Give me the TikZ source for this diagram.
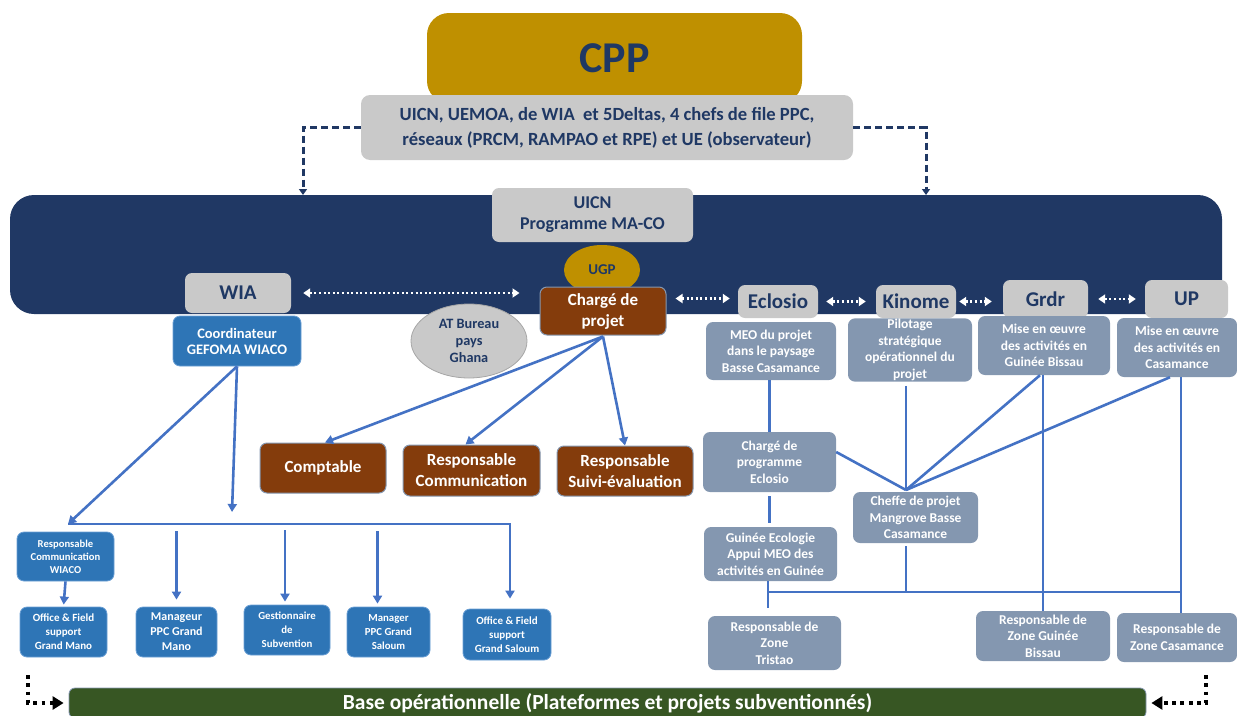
\documentclass[tikz,border=0pt]{standalone}
\usepackage{fontspec}
\setmainfont{Carlito}
\usetikzlibrary{arrows.meta,shapes.geometric}
\definecolor{gold}{HTML}{BF9000}
\definecolor{navy}{HTML}{203864}
\definecolor{navytext}{HTML}{1F3864}
\definecolor{lgrey}{HTML}{C9C9C9}
\definecolor{brownc}{HTML}{843C0C}
\definecolor{bordc}{HTML}{8497B0}
\definecolor{blueb}{HTML}{2E75B6}
\definecolor{blueborder}{HTML}{6A9FD4}
\definecolor{slate}{HTML}{8497B0}
\definecolor{linec}{HTML}{4472C4}
\definecolor{greenc}{HTML}{375623}
\newcommand\fsz[2]{\fontsize{#1}{#2}\selectfont\bfseries}
\tikzset{
  bx/.style={rounded corners=7pt, align=center, inner sep=1pt},
  greybox/.style={bx, fill=lgrey, text=navytext},
  brownbox/.style={bx, fill=brownc, draw=bordc, line width=1pt, text=white, font=\fsz{17}{21}},
  bluebox/.style={bx, fill=blueb, draw=blueborder, line width=0.8pt, text=white, font=\fsz{10.8}{14}},
  slatebox/.style={bx, fill=slate, text=white, font=\fsz{13.5}{16.5}},
  conn/.style={draw=linec, line width=2.6pt},
  arr/.style={conn, -{Triangle[width=9pt,length=8pt]}},
  dashc/.style={draw=navy, line width=3pt, dash pattern=on 7pt off 4pt, -{Triangle[width=8pt,length=6pt]}},
  wdot/.style={draw=white, line width=2.4pt, dash pattern=on 2pt off 2.6pt, {Triangle[width=9pt,length=7pt]}-{Triangle[width=9pt,length=7pt]}},
  kdot/.style={draw=black, line width=3.8pt, dash pattern=on 3.8pt off 4.5pt, -{Triangle[width=13pt,length=11pt]}},
}
\begin{document}
\begin{tikzpicture}[x=1pt,y=-1pt]
\useasboundingbox (0,0) rectangle (1237,715);
% top
\node[bx, rounded corners=22pt, fill=gold, text=navytext, font=\fsz{44}{50}, minimum width=375pt, minimum height=90pt] (cpp) at (614.5,58) {CPP};
\node[greybox, rounded corners=9pt, font=\fsz{18.6}{25}, minimum width=492pt, minimum height=65pt] (gbox) at (607,127.5)
  {UICN, UEMOA, de WIA\ \ et 5Deltas, 4 chefs de file PPC,\\réseaux (PRCM, RAMPAO et RPE) et UE (observateur)};
% band
\node[bx, rounded corners=24pt, fill=navy, minimum width=1212pt, minimum height=119pt] (band) at (616,254.5) {};
\coordinate (bandL) at (303,195);
\coordinate (bandR) at (926,195);
\draw[dashc] (gbox.west) -| (bandL);
\draw[dashc] (gbox.east) -| (bandR);
\node[greybox, font=\fsz{18}{21}, minimum width=201pt, minimum height=54pt] (uicn) at (592.5,215) {UICN\\Programme MA-CO};
\node[ellipse, fill=gold, text=navytext, font=\fsz{15}{17}, minimum width=76pt, minimum height=50pt, inner sep=0pt] (ugp) at (602,270) {UGP};
\node[brownbox, minimum width=126pt, minimum height=48pt] (chp) at (603,311) {Chargé de\\projet};
\node[ellipse, fill=lgrey, draw=gray!70, line width=0.8pt, text=navytext, font=\fsz{14.3}{17}, align=center, minimum width=116pt, minimum height=74pt, inner sep=0pt] (atg) at (469,341) {AT Bureau\\pays\\Ghana};
\node[greybox, font=\fsz{21}{24}, minimum width=106pt, minimum height=40pt] (wia) at (238,293) {WIA};
\node[bluebox, font=\fsz{14.5}{16}, minimum width=128pt, minimum height=50pt] (coord) at (237,341) {Coordinateur\\GEFOMA WIACO};
% partners
\node[greybox, font=\fsz{21}{24}, minimum width=80pt, minimum height=33pt] (ecl) at (778,301.5) {Eclosio};
\node[greybox, font=\fsz{21}{24}, minimum width=80pt, minimum height=33pt] (kin) at (916,301.5) {Kinome};
\node[greybox, font=\fsz{21}{24}, minimum width=85pt, minimum height=38pt] (grdr) at (1045.5,299) {Grdr};
\node[greybox, font=\fsz{21}{24}, minimum width=83pt, minimum height=38pt] (up) at (1186.5,299) {UP};
% white dotted links
\draw[wdot, shorten <=12pt, shorten >=20pt] (wia.east) -- (wia.east -| chp.west);
\draw[wdot, shorten <=9pt, shorten >=8pt] ([yshift=3pt]chp.east |- ecl.west) -- ([yshift=3pt]ecl.west);
\draw[wdot, shorten <=8pt, shorten >=10pt] (ecl.east) -- (kin.west);
\draw[wdot, shorten <=3pt, shorten >=11pt] (kin.east) -- (kin.east -| grdr.west);
\draw[wdot, shorten <=10pt, shorten >=9pt] (grdr.east) -- (up.west);
% right boxes
\node[slatebox, minimum width=130pt, minimum height=58pt] (meo) at (771,351) {MEO du projet\\dans le paysage\\Basse Casamance};
\node[slatebox, minimum width=124pt, minimum height=60pt] (pil) at (910,350) {Pilotage\\stratégique\\opérationnel du\\projet};
\node[slatebox, minimum width=132pt, minimum height=59pt] (mgb) at (1044,345.5) {Mise en œuvre\\des activités en\\Guinée Bissau};
\node[slatebox, minimum width=120pt, minimum height=59pt] (mca) at (1177,347.5) {Mise en œuvre\\des activités en\\Casamance};
\node[slatebox, minimum width=133pt, minimum height=60pt] (cprog) at (769.5,462) {Chargé de\\programme\\Eclosio};
\node[slatebox, minimum width=133pt, minimum height=54pt] (guin) at (770.5,554) {Guinée Ecologie\\Appui MEO des\\activités en Guinée};
\node[slatebox, minimum width=125pt, minimum height=51pt] (cheffe) at (915.5,517.5) {Cheffe de projet\\Mangrove Basse\\Casamance};
\node[slatebox, minimum width=133pt, minimum height=54pt] (tri) at (774.5,643) {Responsable de\\Zone\\Tristao};
\node[slatebox, minimum width=134pt, minimum height=50pt] (zgb) at (1043,636) {Responsable de\\Zone Guinée\\Bissau};
\node[slatebox, minimum width=120pt, minimum height=49pt] (zca) at (1177,637.5) {Responsable de\\Zone Casamance};
% right connectors
\coordinate (conv) at (906,490);
\coordinate (hbL) at (768,592);
\coordinate (hbR) at (1181,592);
\draw[conn] (meo.south -| cprog.north) -- (cprog.north);
\draw[conn, shorten <=4pt, shorten >=4pt] (cprog.south) -- (cprog.south |- guin.north);
\draw[conn, shorten <=4pt] (pil.south -| conv) -- (conv);
\draw[conn] ([yshift=10pt]cprog.east) -- (conv);
\draw[conn] ([xshift=-4pt]mgb.south) -- (conv);
\draw[conn] ([xshift=-7pt]mca.south) -- (conv);
\draw[conn] (mgb.south -| zgb.north) -- (zgb.north);
\draw[conn] (mca.south -| hbR) -- (zca.north -| hbR);
\draw[conn, shorten <=3pt] (cheffe.south -| conv) -- (hbL -| conv);
\draw[conn] (hbL) -- (hbR);
\draw[conn] (guin.south -| hbL) -- ([yshift=8pt]tri.north -| hbL);
% brown boxes
\node[brownbox, minimum width=126pt, minimum height=50pt] (compt) at (323,468) {Comptable};
\node[brownbox, minimum width=137pt, minimum height=51pt] (rcom) at (471.5,470.5) {Responsable\\Communication};
\node[brownbox, minimum width=136pt, minimum height=50pt] (rse) at (625,471) {Responsable\\Suivi-évaluation};
\draw[arr] ([yshift=-1pt]chp.south) -- ([xshift=2pt]compt.north);
\draw[arr] ([yshift=-1pt]chp.south) -- ([xshift=-6pt]rcom.north);
\draw[arr] ([yshift=-1pt]chp.south) -- (rse.north);
% left blue boxes
\node[bluebox, font=\fsz{10.6}{13}, minimum width=97pt, minimum height=49pt] (rcw) at (65.5,556.5) {Responsable\\Communication\\WIACO};
\node[bluebox, font=\fsz{11}{14}, minimum width=87pt, minimum height=50pt] (ogm) at (63.5,632) {Office \& Field\\support\\Grand Mano};
\node[bluebox, font=\fsz{12}{15}, minimum width=81pt, minimum height=50pt] (mgm) at (176.5,632) {Manageur\\PPC Grand\\Mano};
\node[bluebox, minimum width=86pt, minimum height=50pt] (gest) at (287,630) {Gestionnaire\\de\\Subvention};
\node[bluebox, minimum width=83pt, minimum height=50pt] (mgs) at (388.5,632) {Manager\\PPC Grand\\Saloum};
\node[bluebox, font=\fsz{11}{14}, minimum width=88pt, minimum height=51pt] (ogs) at (507,634.5) {Office \& Field\\support\\Grand Saloum};
\coordinate (busL) at (68,524);
\coordinate (midA) at (232,512);
\draw[arr] (coord.south) -- (busL);
\draw[arr] (coord.south) -- (midA);
\draw[arr, shorten >=10pt] (busL) -| ([xshift=3pt]ogs.north);
\draw[arr, shorten <=7pt, shorten >=7pt] (mgm.north |- busL) -- (mgm.north);
\draw[arr, shorten <=6pt, shorten >=3pt] ([xshift=-2pt]gest.north |- busL) -- ([xshift=-2pt]gest.north);
\draw[arr, shorten <=7pt, shorten >=3pt] ([xshift=-11pt]mgs.north |- busL) -- ([xshift=-11pt]mgs.north);
\draw[arr, shorten >=2pt] (rcw.south) -- (ogm.north);
% green base
\node[bx, rounded corners=6pt, fill=greenc, draw=bordc, line width=0.8pt, text=white, font=\fsz{21.5}{24}, minimum width=1077pt, minimum height=30pt] (base) at (607.5,703) {Base opérationnelle (Plateformes et projets subventionnés)};
\coordinate (bl) at (28,675);
\coordinate (br) at (1206,675);
\draw[kdot, shorten >=5pt] (bl) |- (base.west);
\draw[kdot, shorten >=5pt] (br) |- (base.east);
\end{tikzpicture}
\end{document}
